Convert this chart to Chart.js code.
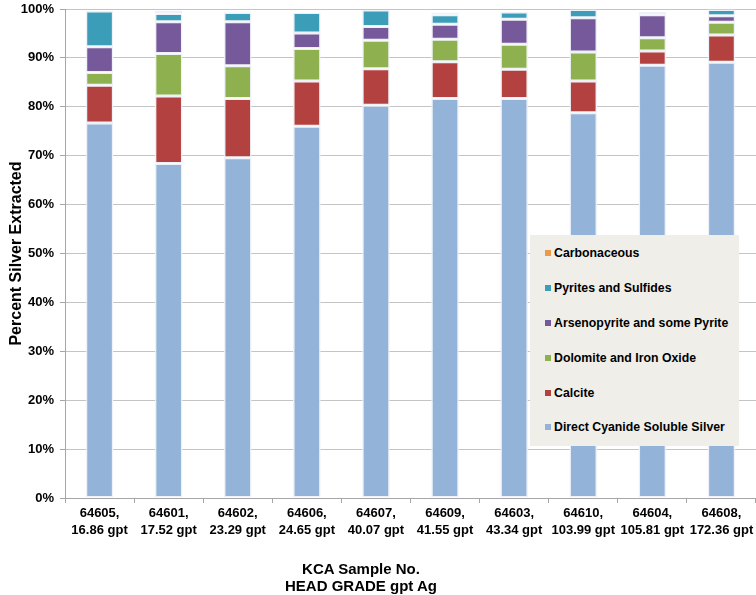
<!DOCTYPE html>
<html>
<head>
<meta charset="utf-8">
<script src="https://cdn.jsdelivr.net/npm/chart.js@4.4.1/dist/chart.umd.min.js"></script>
<style>
  body { margin: 0; background: #fff; }
  #wrap { position: relative; width: 756px; height: 595px; }
  #theChart { position: absolute; left: 0; top: 0; }
  #legend {
    position: absolute; left: 530px; top: 235px; width: 209px; height: 211px;
    background: #efeee9; box-sizing: border-box; padding-top: 1px;
    font: bold 12.3px "Liberation Sans", Arial, sans-serif; color: #000;
  }
  .legend-item { height: 34.8px; display: flex; align-items: center; padding-left: 15px; }
  .legend-box { width: 6px; height: 6px; margin-right: 3px; }
  #x-title {
    position: absolute; left: 211px; top: 561px; width: 300px; text-align: center;
    font: bold 15px/16.5px "Liberation Sans", Arial, sans-serif; color: #000;
  }
</style>
</head>
<body>
<div id="wrap">
  <canvas id="theChart" width="756" height="595"></canvas>
  <div id="legend"></div>
  <div id="x-title">KCA Sample No.<br>HEAD GRADE gpt Ag</div>
</div>
<script>
const sampleNumbers = ["64605", "64601", "64602", "64606", "64607", "64609", "64603", "64610", "64604", "64608"];
const headGrades = ["16.86", "17.52", "23.29", "24.65", "40.07", "41.55", "43.34", "103.99", "105.81", "172.36"];

// percent of silver extracted, bottom segment first
const directCyanide = [76.7, 68.4, 69.6, 76.0, 80.3, 81.7, 81.7, 78.8, 88.5, 89.1];
const calcite = [7.7, 13.8, 12.1, 9.3, 7.5, 7.5, 6.0, 6.5, 2.9, 5.6];
const dolomite = [2.6, 8.7, 6.7, 6.6, 5.8, 4.6, 5.1, 5.9, 2.7, 2.6];
const arsenopyrite = [5.3, 6.5, 9.0, 3.2, 2.8, 3.1, 5.1, 7.0, 4.7, 1.3];
const pyrites = [7.3, 1.7, 1.9, 4.2, 3.4, 1.9, 1.5, 1.7, 0.6, 1.3];
const carbonaceous = [0, 0.6, 0.2, 0, 0, 0.5, 0, 0, 0, 0];

const seriesNames = [
  "Direct Cyanide Soluble Silver",
  "Calcite",
  "Dolomite and Iron Oxide",
  "Arsenopyrite and some Pyrite",
  "Pyrites and Sulfides",
  "Carbonaceous",
];
const seriesValues = [directCyanide, calcite, dolomite, arsenopyrite, pyrites, carbonaceous];
const colorPalette = ["#93b3d8", "#b3413f", "#8fb04e", "#76599a", "#3c9db8", "#eb9a4c"];

const fontFamily = "'Liberation Sans', Arial, sans-serif";
const labels = sampleNumbers.map((s, i) => [`${s},`, `${headGrades[i]} gpt`]);

const datasets = seriesNames.map((name, i) => ({
  label: name,
  data: seriesValues[i],
  backgroundColor: colorPalette[i],
  borderColor: "#eef2f8",
  borderWidth: 1.5,
  borderSkipped: false,
  categoryPercentage: 1,
  barPercentage: 0.4,
}));

// legend box drawn over the plot, top entry = top of stack
const legendElement = document.getElementById("legend");
for (let i = seriesNames.length - 1; i >= 0; i--) {
  legendElement.innerHTML += `
    <div class="legend-item">
      <span class="legend-box" style="background:${colorPalette[i]}"></span>
      <span>${seriesNames[i]}</span>
    </div>`;
}

const config = {
  type: "bar",
  data: { labels, datasets },
  options: {
    responsive: false,
    animation: false,
    layout: { padding: { top: 9, right: 0, bottom: 0, left: 0 } },
    plugins: {
      legend: { display: false },
      tooltip: { enabled: false },
    },
    scales: {
      x: {
        stacked: true,
        offset: true,
        grid: {
          offset: true,
          drawOnChartArea: false,
          tickLength: 5,
          color: "#a6a6a6",
        },
        border: { color: "#a6a6a6" },
        ticks: {
          color: "#000",
          padding: 2,
          maxRotation: 0,
          autoSkip: false,
          font: { family: fontFamily, size: 13, weight: "bold", lineHeight: 1.3 },
        },
        afterFit: (scale) => {
          scale.height = 97;
        },
      },
      y: {
        stacked: true,
        min: 0,
        max: 100,
        grid: {
          color: "#c4c4c4",
          tickLength: 5,
          tickColor: "#a6a6a6",
        },
        border: { color: "#a6a6a6" },
        ticks: {
          stepSize: 10,
          color: "#000",
          padding: 6,
          font: { family: fontFamily, size: 13, weight: "bold" },
          callback: (value) => value + "%",
        },
        title: {
          display: true,
          text: "Percent Silver Extracted",
          color: "#000",
          padding: { top: 7, bottom: 0 },
          font: { family: fontFamily, size: 16, weight: "bold" },
        },
        afterFit: (scale) => {
          scale.width = 65;
          scale.paddingTop = 0;
        },
      },
    },
  },
};

const myChart = new Chart(document.getElementById("theChart"), config);
</script>
</body>
</html>
